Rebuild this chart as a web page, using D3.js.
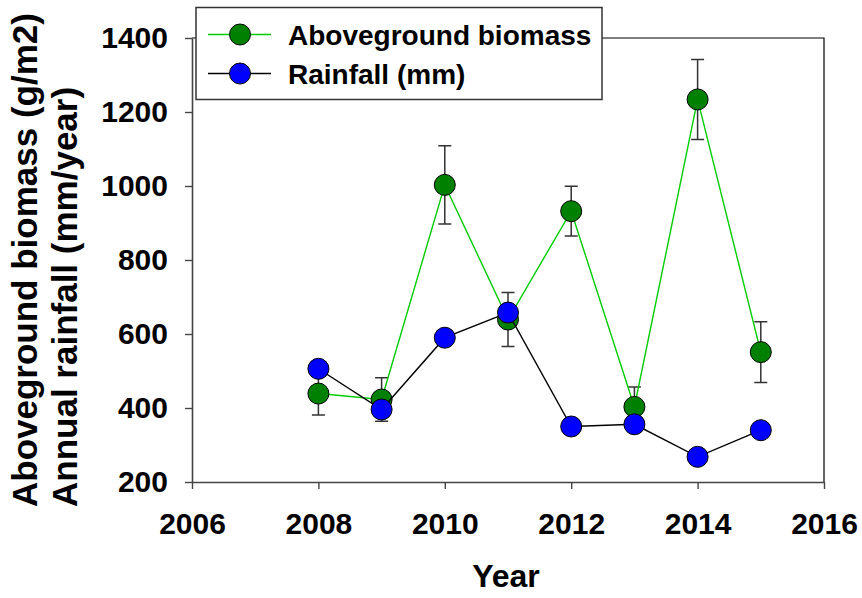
<!DOCTYPE html>
<html>
<head>
<meta charset="utf-8">
<script src="https://cdn.jsdelivr.net/npm/d3@7"></script>
<style>
  body { margin: 0; background: #fff; }
  text { font-family: Arial, "Liberation Sans", sans-serif; font-weight: bold; fill: #000; }
</style>
</head>
<body>
<div id="chart"></div>
<script>
(function () {
  // data
  const years = [2008, 2009, 2010, 2011, 2012, 2013, 2014, 2015];
  const biomass = [439, 423, 1003, 639, 932, 403, 1234, 551];
  const biomassSE = [58, 59, 106, 73, 67, 54, 108, 82];
  const rainfall = [506, 396, 590, 658, 350, 356, 268, 340];

  const xTicks = [2006, 2008, 2010, 2012, 2014, 2016];
  const yTicks = [200, 400, 600, 800, 1000, 1200, 1400];

  const W = 862, H = 598;
  const left = 192, right = 824, top = 38, bottom = 482;

  const svg = d3
    .select("#chart")
    .append("svg")
    .attr("width", W)
    .attr("height", H);

  const x = d3.scaleLinear().domain([2006, 2016]).range([left, right]);
  const y = d3.scaleLinear().domain([200, 1400]).range([bottom, top]);

  // frame top / right
  svg.append("path")
    .attr("d", `M${left},${top}H${right}V${bottom}`)
    .attr("fill", "none")
    .attr("stroke", "#000")
    .attr("stroke-width", 1.2);

  // axes
  const xAxis = svg.append("g")
    .attr("transform", `translate(0,${bottom})`)
    .call(d3.axisBottom(x).tickValues(xTicks).tickFormat(d3.format("d"))
      .tickSize(7).tickSizeOuter(0).tickPadding(24));
  const yAxis = svg.append("g")
    .attr("transform", `translate(${left},0)`)
    .call(d3.axisLeft(y).tickValues(yTicks).tickFormat(d3.format("d"))
      .tickSize(7).tickSizeOuter(0).tickPadding(17));

  [xAxis, yAxis].forEach((g) => {
    g.select(".domain").attr("stroke", "#444").attr("stroke-width", 1.6);
    g.selectAll(".tick line").attr("stroke", "#444").attr("stroke-width", 1.4);
    g.selectAll(".tick text")
      .attr("font-size", 30)
      .attr("font-family", "Arial, 'Liberation Sans', sans-serif")
      .attr("font-weight", "bold")
      .attr("fill", "#000");
  });

  // error bars for biomass
  const cap = 6.5;
  const eb = svg.append("g").attr("stroke", "#333").attr("stroke-width", 1.5).attr("fill", "none");
  years.forEach((yr, i) => {
    const cx = x(yr);
    const y0 = y(biomass[i] - biomassSE[i]);
    const y1 = y(biomass[i] + biomassSE[i]);
    eb.append("path")
      .attr("d", `M${cx},${y0}V${y1}M${cx - cap},${y0}H${cx + cap}M${cx - cap},${y1}H${cx + cap}`);
  });

  const line = (vals) => d3.line().x((d, i) => x(years[i])).y((d) => y(d))(vals);
  const r = 10.5;

  // biomass series
  svg.append("path")
    .attr("d", line(biomass))
    .attr("fill", "none")
    .attr("stroke", "#00cc00")
    .attr("stroke-width", 1.4);
  svg.append("g").selectAll("circle")
    .data(biomass)
    .join("circle")
    .attr("cx", (d, i) => x(years[i]))
    .attr("cy", (d) => y(d))
    .attr("r", r)
    .attr("fill", "#008000")
    .attr("stroke", "#000")
    .attr("stroke-width", 1);

  // rainfall series
  svg.append("path")
    .attr("d", line(rainfall))
    .attr("fill", "none")
    .attr("stroke", "#000")
    .attr("stroke-width", 1.4);
  svg.append("g").selectAll("circle")
    .data(rainfall)
    .join("circle")
    .attr("cx", (d, i) => x(years[i]))
    .attr("cy", (d) => y(d))
    .attr("r", r)
    .attr("fill", "#0000ff")
    .attr("stroke", "#000")
    .attr("stroke-width", 1);

  // legend
  const legend = svg.append("g");
  legend.append("rect")
    .attr("x", 196).attr("y", 7.5)
    .attr("width", 406).attr("height", 92)
    .attr("fill", "#fff")
    .attr("stroke", "#333")
    .attr("stroke-width", 1.5);
  const entries = [
    { label: "Aboveground biomass", line: "#00cc00", fill: "#008000", cy: 34.5 },
    { label: "Rainfall (mm)", line: "#000", fill: "#0000ff", cy: 73.5 }
  ];
  entries.forEach((e) => {
    legend.append("line")
      .attr("x1", 208).attr("x2", 271)
      .attr("y1", e.cy).attr("y2", e.cy)
      .attr("stroke", e.line).attr("stroke-width", 1.4);
    legend.append("circle")
      .attr("cx", 240).attr("cy", e.cy).attr("r", r)
      .attr("fill", e.fill).attr("stroke", "#000").attr("stroke-width", 1);
    legend.append("text")
      .attr("x", 288).attr("y", e.cy + 10)
      .attr("font-size", 28)
      .text(e.label);
  });

  // axis titles
  svg.append("text")
    .attr("x", 506).attr("y", 587)
    .attr("text-anchor", "middle")
    .attr("font-size", 32)
    .text("Year");

  const yTitle = svg.append("g").attr("transform", "translate(0,507) rotate(-90)");
  yTitle.append("text").attr("x", 0).attr("y", 36.5).attr("font-size", 35)
    .text("Aboveground biomass (g/m2)");
  yTitle.append("text").attr("x", 0).attr("y", 76.5).attr("font-size", 35)
    .text("Annual rainfall (mm/year)");
})();
</script>
</body>
</html>
